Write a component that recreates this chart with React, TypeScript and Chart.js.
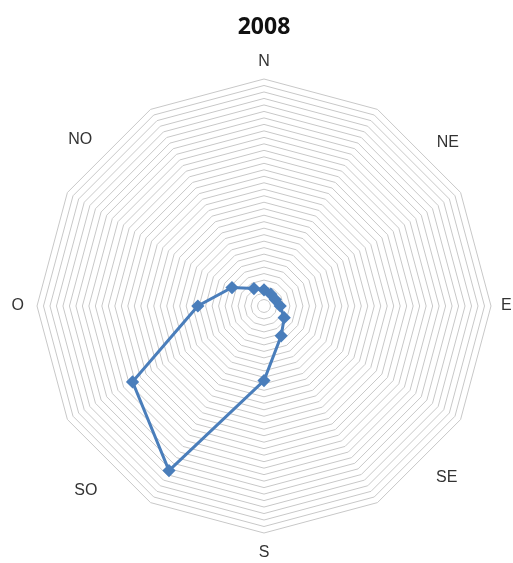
import React, { useEffect, useRef } from "react";
import { Chart, registerables } from "chart.js";

Chart.register(...registerables);

const title = "2008";
// 12 directions around the rose, clockwise from north
const categories = ["", "", "", "", "", "", "", "", "", "", "", ""];
const values = [2.5, 2.1, 2.0, 2.5, 3.6, 5.3, 11.5, 29.3, 23.4, 10.2, 5.7, 3.1];
// compass labels placed every 45°
const compassLabels = ["N", "NE", "E", "SE", "S", "SO", "O", "NO"];
const scaleMax = 35;
const scaleStep = 1;

// label placement relative to the radar centre, in units of the radius
const labelOffsets: [number, number][] = [
  [0, -1.075],
  [0.81, -0.72],
  [1.085, 0],
  [0.805, 0.755],
  [0, 1.085],
  [-0.785, 0.815],
  [-1.085, 0],
  [-0.81, -0.735],
];

const compassPlugin = {
  id: "compassLabels",
  afterDraw(chart: any) {
    const scale = chart.scales.r;
    const ctx = chart.ctx;
    const R = scale.drawingArea;
    ctx.save();
    ctx.font = "16px 'Liberation Sans', Arial, sans-serif";
    ctx.fillStyle = "#333333";
    ctx.textBaseline = "middle";
    compassLabels.forEach((lbl, i) => {
      const [fx, fy] = labelOffsets[i];
      const x = scale.xCenter + fx * R;
      const y = scale.yCenter + fy * R;
      if (lbl === "E") {
        ctx.textAlign = "left";
        ctx.fillText(lbl, scale.xCenter + R + 10, y);
      } else {
        ctx.textAlign = "center";
        ctx.fillText(lbl, x, y);
      }
    });
    ctx.restore();
  },
};

export default function App() {
  const ref = useRef<HTMLCanvasElement>(null);
  useEffect(() => {
    if (!ref.current) return;
    const chart = new Chart(ref.current, {
      type: "radar",
      data: {
        labels: categories,
        datasets: [
          {
            data: values,
            borderColor: "#4A7EBB",
            backgroundColor: "#4A7EBB",
            borderWidth: 3,
            pointStyle: "rectRot",
            pointRadius: 4.5,
            pointBackgroundColor: "#4A7EBB",
            pointBorderColor: "#4A7EBB",
            fill: false,
          },
        ],
      },
      options: {
        animation: false,
        responsive: false,
        maintainAspectRatio: false,
        layout: { padding: { left: 29, right: 22, top: 0, bottom: 29 } },
        plugins: {
          legend: { display: false },
          tooltip: { enabled: false },
          title: {
            display: true,
            text: title,
            color: "#111",
            font: { family: "'Open Sans', 'Liberation Sans', sans-serif", size: 23, weight: "bold" },
            padding: { top: 6, bottom: 38 },
          },
        },
        scales: {
          r: {
            min: 0,
            max: scaleMax,
            ticks: { display: false, stepSize: scaleStep },
            grid: { color: "#c8c8c8", lineWidth: 1 },
            angleLines: { display: false },
            pointLabels: { display: false },
          },
        },
      },
      plugins: [compassPlugin],
    });
    return () => chart.destroy();
  }, []);
  return (
    <div style={{ position: "absolute", left: 8, top: 8, width: 505, height: 555 }}>
      <canvas ref={ref} width={505} height={555} style={{ display: "block" }} />
    </div>
  );
}
